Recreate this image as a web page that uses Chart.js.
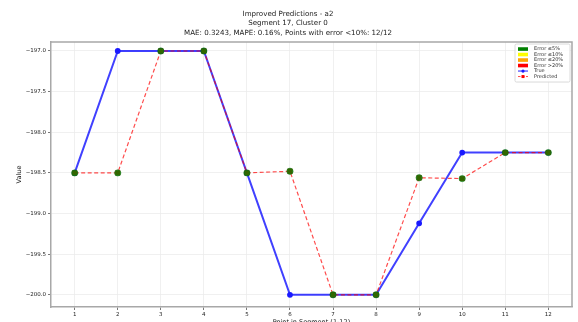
<!DOCTYPE html>
<html lang="en">
<head>
    <meta charset="UTF-8">
    <title>Improved Predictions - a2</title>
    <script src="https://cdn.jsdelivr.net/npm/chart.js@4.4.0/dist/chart.umd.min.js"></script>
    <style>
        html, body { margin: 0; padding: 0; background: #fff; }
        .chart-container { width: 578px; height: 322px; position: relative; }
    </style>
</head>
<body>
    <div class="chart-container">
        <canvas id="predChart"></canvas>
    </div>

    <script>
        // Segment data
        const points = [1, 2, 3, 4, 5, 6, 7, 8, 9, 10, 11, 12];
        const trueValues = [-198.5, -197.0, -197.0, -197.0, -198.5, -200.0, -200.0, -200.0, -199.12, -198.25, -198.25, -198.25];
        const predValues = [-198.5, -198.5, -197.0, -197.0, -198.5, -198.48, -200.0, -200.0, -198.56, -198.57, -198.25, -198.25];
        const yTicks = [-197.0, -197.5, -198.0, -198.5, -199.0, -199.5, -200.0];

        const titleLines = [
            'Improved Predictions - a2',
            'Segment 17, Cluster 0',
            'MAE: 0.3243, MAPE: 0.16%, Points with error <10%: 12/12'
        ];

        const legendItems = [
            { label: 'Error \u22645%', kind: 'patch', color: '#008000' },
            { label: 'Error \u226410%', kind: 'patch', color: '#ffff00' },
            { label: 'Error \u226420%', kind: 'patch', color: '#ffa500' },
            { label: 'Error >20%', kind: 'patch', color: '#ff0000' },
            { label: 'True', kind: 'true', color: '#1a1aff' },
            { label: 'Predicted', kind: 'pred', color: '#ff0000' }
        ];

        const FONT = "'DejaVu Sans', sans-serif";
        const toXY = vals => points.map((p, i) => ({ x: p, y: vals[i] }));

        // top and right spines
        const framePlugin = {
            id: 'frame',
            afterDraw(chart) {
                const { ctx, chartArea: a } = chart;
                ctx.save();
                ctx.strokeStyle = '#a8a8a8';
                ctx.lineWidth = 1.5;
                ctx.beginPath();
                ctx.moveTo(a.left, a.top);
                ctx.lineTo(a.right, a.top);
                ctx.lineTo(a.right, a.bottom);
                ctx.stroke();
                ctx.restore();
            }
        };

        // legend box in the upper right corner of the plot
        const cornerLegend = {
            id: 'cornerLegend',
            afterDraw(chart) {
                const { ctx, chartArea: a } = chart;
                const w = 55, rowH = 5.5;
                const h = legendItems.length * rowH + 5;
                const x0 = a.right - w - 2, y0 = a.top + 2;
                ctx.save();
                ctx.fillStyle = 'rgba(255,255,255,0.85)';
                ctx.strokeStyle = '#d0d0d0';
                ctx.lineWidth = 0.8;
                ctx.beginPath();
                ctx.roundRect(x0, y0, w, h, 1.5);
                ctx.fill();
                ctx.stroke();
                ctx.font = '5px ' + FONT;
                ctx.textBaseline = 'middle';
                legendItems.forEach((it, i) => {
                    const cy = y0 + 5 + i * rowH;
                    const sx = x0 + 3;
                    if (it.kind === 'patch') {
                        ctx.fillStyle = it.color;
                        ctx.fillRect(sx, cy - 1.8, 10, 3.6);
                    } else if (it.kind === 'true') {
                        ctx.strokeStyle = 'rgba(0,0,255,0.75)';
                        ctx.lineWidth = 1.2;
                        ctx.beginPath();
                        ctx.moveTo(sx, cy);
                        ctx.lineTo(sx + 10, cy);
                        ctx.stroke();
                        ctx.fillStyle = it.color;
                        ctx.beginPath();
                        ctx.arc(sx + 5, cy, 1.6, 0, Math.PI * 2);
                        ctx.fill();
                    } else {
                        ctx.strokeStyle = 'rgba(255,0,0,0.7)';
                        ctx.lineWidth = 1;
                        ctx.setLineDash([2.5, 1.5]);
                        ctx.beginPath();
                        ctx.moveTo(sx, cy);
                        ctx.lineTo(sx + 10, cy);
                        ctx.stroke();
                        ctx.setLineDash([]);
                        ctx.fillStyle = it.color;
                        ctx.fillRect(sx + 3.5, cy - 1.5, 3, 3);
                    }
                    ctx.fillStyle = '#333';
                    ctx.fillText(it.label, sx + 16, cy);
                });
                ctx.restore();
            }
        };

        const ctx = document.getElementById('predChart').getContext('2d');
        new Chart(ctx, {
            type: 'line',
            data: {
                datasets: [
                    {
                        // error category markers (all points within 5%)
                        label: 'Error \u22645%',
                        data: toXY(predValues),
                        showLine: false,
                        pointRadius: 3.2,
                        pointBackgroundColor: 'rgba(0,128,0,0.8)',
                        pointBorderColor: 'rgba(0,100,0,0.8)',
                        pointBorderWidth: 0.5,
                        order: 0
                    },
                    {
                        label: 'Predicted',
                        data: toXY(predValues),
                        borderColor: 'rgba(255,0,0,0.7)',
                        borderWidth: 1.2,
                        borderDash: [4, 2.5],
                        pointStyle: 'rect',
                        pointRadius: 2.6,
                        pointBackgroundColor: '#ff0000',
                        pointBorderColor: '#ff0000',
                        tension: 0,
                        order: 1
                    },
                    {
                        label: 'True',
                        data: toXY(trueValues),
                        borderColor: 'rgba(0,0,255,0.75)',
                        borderWidth: 2,
                        pointRadius: 1.9,
                        pointBackgroundColor: '#1a1aff',
                        pointBorderColor: '#1a1aff',
                        tension: 0,
                        order: 2
                    }
                ]
            },
            options: {
                responsive: true,
                maintainAspectRatio: false,
                animation: false,
                layout: { padding: { left: 0, right: 2, top: 0, bottom: 0 } },
                scales: {
                    x: {
                        type: 'linear',
                        min: 0.45,
                        max: 12.55,
                        afterBuildTicks: s => { s.ticks = points.map(v => ({ value: v })); },
                        afterFit: s => { s.height = 15; },
                        ticks: {
                            font: { family: FONT, size: 5.5 },
                            color: '#222',
                            padding: 1,
                            maxRotation: 0,
                            callback: v => String(v)
                        },
                        grid: {
                            color: '#ececec',
                            lineWidth: 0.8,
                            tickLength: 3,
                            tickColor: '#555',
                            tickWidth: 0.8
                        },
                        border: { color: '#a8a8a8', width: 1.5 },
                        title: {
                            display: true,
                            text: 'Point in Segment (1-12)',
                            font: { family: FONT, size: 6.5 },
                            color: '#222',
                            padding: { top: 0, bottom: -4 }
                        }
                    },
                    y: {
                        min: -200.15,
                        max: -196.89,
                        afterBuildTicks: s => { s.ticks = yTicks.map(v => ({ value: v })); },
                        afterFit: s => { s.width = 51; },
                        ticks: {
                            font: { family: FONT, size: 5.5 },
                            color: '#222',
                            padding: 2,
                            callback: v => v.toFixed(1).replace('-', '\u2212')
                        },
                        grid: {
                            color: '#ececec',
                            lineWidth: 0.8,
                            tickLength: 3,
                            tickColor: '#555',
                            tickWidth: 0.8
                        },
                        border: { color: '#a8a8a8', width: 1.5 },
                        title: {
                            display: true,
                            text: 'Value',
                            font: { family: FONT, size: 6.5 },
                            color: '#222',
                            padding: { top: 15, bottom: 0 }
                        }
                    }
                },
                plugins: {
                    legend: { display: false },
                    tooltip: { enabled: false },
                    title: {
                        display: true,
                        text: titleLines,
                        font: { family: FONT, size: 7.1, weight: 'normal', lineHeight: 1.34 },
                        color: '#222',
                        padding: { top: 9, bottom: 4.5 }
                    }
                }
            },
            plugins: [framePlugin, cornerLegend]
        });
    </script>
</body>
</html>
